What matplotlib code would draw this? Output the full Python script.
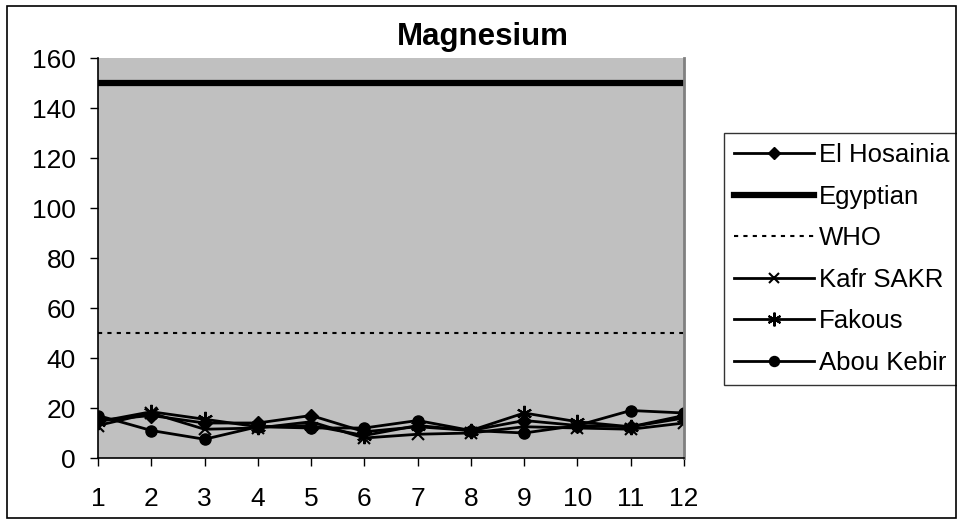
import matplotlib.pyplot as plt
from matplotlib.patches import Rectangle

plt.rcParams['font.family'] = ['Liberation Sans', 'DejaVu Sans']

months = list(range(1, 13))
el_hosainia = [15, 17, 14, 14, 17, 10.5, 12.5, 11, 15, 13, 12.5, 17]
egyptian = [150] * 12
who = [50] * 12
kafr_sakr = [13, 18, 11.5, 12, 14.5, 8, 9.5, 10, 12.5, 12, 11.5, 14]
fakous = [14.5, 18.5, 15.5, 12.5, 13, 9, 13, 11, 18, 14.5, 12.5, 16]
abou_kebir = [17, 11, 7.5, 12.5, 12, 12, 15, 11, 10, 13, 19, 18]

W, H = 957, 519
fig = plt.figure(figsize=(W / 100, H / 100), dpi=100)
ax = fig.add_axes([98 / W, 1 - 458 / H, (684 - 98) / W, (458 - 58) / H])
ax.set_facecolor('#C0C0C0')

star = (6, 2, 0)
ax.plot(months, el_hosainia, color='black', lw=2, marker='D', ms=7, label='El Hosainia')
ax.plot(months, egyptian, color='black', lw=4.5, label='Egyptian')
ax.plot(months, who, color='black', lw=1.5, ls=(0, (2, 2.5)), label='WHO')
ax.plot(months, kafr_sakr, color='black', lw=2, marker='x', ms=8, mew=1.5, label='Kafr SAKR')
ax.plot(months, fakous, color='black', lw=2, marker=star, ms=11, mew=1.5, label='Fakous')
ax.plot(months, abou_kebir, color='black', lw=2, marker='o', ms=8, label='Abou Kebir')

ax.set_xlim(1, 12)
ax.set_ylim(0, 160)
ax.set_xticks(months)
ax.set_yticks(range(0, 161, 20))
ax.tick_params(direction='out', length=6, width=1, labelsize=19)
ax.tick_params(axis='y', pad=10)
ax.tick_params(axis='x', pad=15)
ax.spines['top'].set_visible(False)
ax.spines['right'].set_color('#808080')
ax.spines['right'].set_linewidth(2)
ax.spines['left'].set_linewidth(1.2)
ax.spines['bottom'].set_linewidth(1.2)

fig.text(483 / W, 1 - 45 / H, 'Magnesium', ha='center', va='baseline',
         fontsize=22.5, fontweight='bold')

leg = ax.legend(loc='upper left', bbox_to_anchor=(724 / W, 1 - 133 / H),
                bbox_transform=fig.transFigure, frameon=True, fancybox=False,
                edgecolor='black', fontsize=18.5, handlelength=3.1, handletextpad=0.2,
                labelspacing=0.68, borderpad=0.4, borderaxespad=0, markerscale=0.9)
leg.get_frame().set_linewidth(1)

fig.patches.append(Rectangle((7 / W, 1 / H), (W - 8) / W, (H - 7) / H, transform=fig.transFigure,
                             fill=False, edgecolor='black', lw=1.2))

fig.savefig('out.png', dpi=100)
